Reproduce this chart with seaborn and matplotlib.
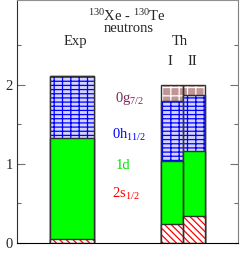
import numpy as np
import pandas as pd
import seaborn as sns
import matplotlib
matplotlib.use("Agg")
from matplotlib import pyplot as plt

# Occupancies (neutrons, 130Xe - 130Te)
models = ["Exp", "I", "II"]
occ_2s = [0.05, 0.24, 0.34]
occ_1d = [1.28, 0.80, 0.82]
occ_0h = [0.78, 0.76, 0.71]
occ_0g = [0.00, 0.20, 0.13]

orbital_labels = ["0g$_{7/2}$", "0h$_{11/2}$", "1d", "2s$_{1/2}$"]

# layout of the bars (x in axis units)
positions = {"Exp": 2.5, "I": 7.0, "II": 8.0}

sns.set_style("ticks")
plt.rcParams['font.family'] = ['Liberation Serif', 'DejaVu Serif']
plt.rcParams['mathtext.fontset'] = 'custom'
plt.rcParams['mathtext.rm'] = 'Liberation Serif'
plt.rcParams['mathtext.it'] = 'Liberation Serif:italic'
plt.rcParams['hatch.linewidth'] = 0.9

df = pd.DataFrame({
    "model": models,
    "pos": [positions[m] for m in models],
    "s": occ_2s, "d": occ_1d, "h": occ_0h, "g": occ_0g,
})
# cumulative tops, drawn from the largest down so each layer covers the next
df["c_s"] = df["s"]
df["c_d"] = df["c_s"] + df["d"]
df["c_h"] = df["c_d"] + df["h"]
df["c_g"] = df["c_h"] + df["g"]

layers = [
    # column, facecolor, hatch colour, hatch
    ("c_g", "#bf9696", "white", "++"),
    ("c_h", "#d4d4ff", "#0000ff", "----||"),
    ("c_d", "#00ff00", "#00ff00", None),
    ("c_s", "white", "#ff0000", "\\\\\\\\\\"),
]

fig = plt.figure(figsize=(2.45, 2.54), dpi=100)
ax = fig.add_axes([17 / 245, 11 / 254, 221 / 245, 243 / 254])

exp_df = df[df["model"] == "Exp"]
th_df = df[df["model"] != "Exp"]

for col, face, hcol, hatch in layers:
    for sub, w in ((exp_df, 2.0), (th_df, 1.0)):
        sns.barplot(data=sub, x="pos", y=col, native_scale=True, orient="x",
                    width=w, errorbar=None, facecolor=face, edgecolor=hcol,
                    hatch=hatch, linewidth=0, ax=ax)
        # dark outline of the segment
        sns.barplot(data=sub, x="pos", y=col, native_scale=True, orient="x",
                    width=w, errorbar=None, facecolor="none", edgecolor="#303030",
                    linewidth=1.0, ax=ax)

ax.set_xlim(0, 10)
ax.set_ylim(0, 3.07)
ax.set_xlabel("")
ax.set_ylabel("")
ax.set_xticks([])
ax.set_yticks([0, 1, 2])
ax.set_yticks([0.5, 1.5, 2.5], minor=True)
ax.tick_params(axis="y", which="both", direction="in", left=True, right=True,
               length=6, width=0.8, color="#707070", labelsize=10.5, pad=3)
ax.tick_params(axis="y", which="minor", length=3)
ax.spines["top"].set_color("#909090")
ax.spines["left"].set_color("#303030")
ax.spines["right"].set_color("#808080")
ax.spines["bottom"].set_color("black")

# headings
fs = 10.5
ax.text(3.21, 2.81, "$^{130}$Xe - $^{130}$Te", ha="left", va="baseline", fontsize=fs)
ax.text(5.05, 2.665, "neutrons", ha="center", va="baseline", fontsize=fs)
ax.text(2.13, 2.50, "Exp", ha="left", va="baseline", fontsize=fs)
ax.text(7.01, 2.50, "Th", ha="left", va="baseline", fontsize=fs)
ax.text(6.92, 2.25, "I", ha="center", va="baseline", fontsize=fs)
ax.text(7.94, 2.25, "II", ha="center", va="baseline", fontsize=fs)

# orbital labels
label_y = [1.78, 1.31, 0.93, 0.57]
label_x = [4.43, 4.30, 4.48, 4.30]
label_c = ["#7a2a5a", "#0000ff", "#00e000", "#ff0000"]
for lab, x, y, c in zip(orbital_labels, label_x, label_y, label_c):
    ax.text(x, y, lab, ha="left", va="baseline", fontsize=fs, color=c)

plt.savefig("out.png", dpi=100)
